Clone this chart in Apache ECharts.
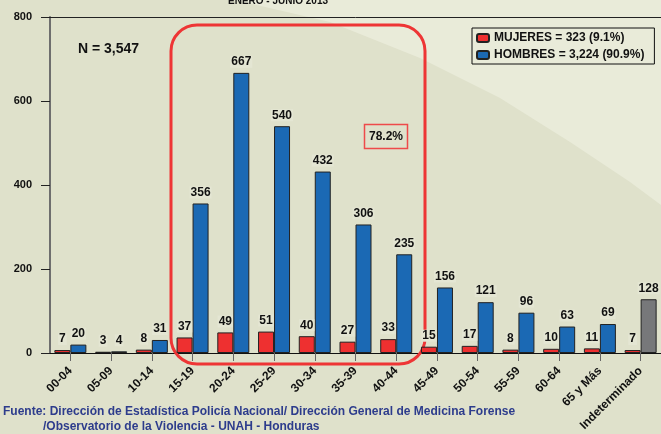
<!DOCTYPE html>
<html>
<head>
<meta charset="utf-8">
<script src="https://cdn.jsdelivr.net/npm/echarts@6/dist/echarts.min.js"></script>
<style>
html, body { margin: 0; padding: 0; }
#main { width: 661px; height: 434px; }
</style>
</head>
<body>
<div id="main"></div>
<script>
var ageGroups = ['00-04', '05-09', '10-14', '15-19', '20-24', '25-29', '30-34', '35-39', '40-44', '45-49', '50-54', '55-59', '60-64', '65 y Más', 'Indeterminado']
var mujeres = [7, 3, 8, 37, 49, 51, 40, 27, 33, 15, 17, 8, 10, 11, 7]
var hombres = [20, 4, 31, 356, 667, 540, 432, 306, 235, 156, 121, 96, 63, 69, 128]
var yTicks = [0, 200, 400, 600, 800]

var chartDom = document.getElementById('main')
var myChart = echarts.init(chartDom)
var option

// ultimo grupo (Indeterminado) va en gris
var hombresData = hombres.map(function (v, i) {
  if (ageGroups[i] === 'Indeterminado') {
    return { value: v, itemStyle: { color: '#77787a' } }
  }
  return v
})

var labelStyle = {
  show: true,
  position: 'top',
  distance: 5,
  color: '#111',
  fontFamily: 'Liberation Sans, Arial',
  fontWeight: 'bold',
  fontSize: 12,
  backgroundColor: '#e4e6d3',
  padding: [0, 1]
}

option = {
  backgroundColor: '#dfe1cb',
  animation: false,
  textStyle: { fontFamily: 'Liberation Sans, Arial' },
  grid: {
    left: 50,
    top: 17,
    width: 612,
    bottom: 81
  },
  legend: {
    orient: 'vertical',
    left: 472,
    top: 28,
    padding: [4, 10, 3, 4],
    itemGap: 5,
    itemWidth: 12,
    itemHeight: 8,
    borderColor: '#111',
    borderWidth: 1,
    textStyle: { fontWeight: 'bold', fontSize: 12, color: '#111' },
    data: ['MUJERES = 323 (9.1%)', 'HOMBRES = 3,224 (90.9%)']
  },
  xAxis: [{
    type: 'category',
    data: ageGroups,
    axisLine: { lineStyle: { color: '#111', width: 1 } },
    axisTick: { show: true, alignWithLabel: true, length: 8, lineStyle: { color: '#666' } },
    axisLabel: {
      interval: 0,
      rotate: 45,
      margin: 16,
      color: '#111',
      fontWeight: 'bold',
      fontSize: 12
    }
  }, {
    type: 'category',
    position: 'top',
    data: ageGroups,
    axisLine: { show: true, lineStyle: { color: '#222', width: 1 } },
    axisTick: { show: false },
    axisLabel: { show: false }
  }],
  yAxis: {
    type: 'value',
    min: yTicks[0],
    max: yTicks[yTicks.length - 1],
    interval: 200,
    axisLine: { show: true, lineStyle: { color: '#6e6e6e', width: 2 } },
    axisTick: { show: true, length: 9, lineStyle: { color: '#222' } },
    splitLine: { show: false },
    axisLabel: { margin: 18, color: '#111', fontWeight: 'bold', fontSize: 11 }
  },
  series: [{
    name: 'MUJERES = 323 (9.1%)',
    type: 'bar',
    z: 3,
    data: mujeres,
    barWidth: 16,
    barGap: '0%',
    itemStyle: { color: '#ee3030', borderColor: '#222', borderWidth: 1 },
    label: labelStyle
  }, {
    name: 'HOMBRES = 3,224 (90.9%)',
    type: 'bar',
    z: 3,
    data: hombresData,
    barWidth: 16,
    barGap: '0%',
    itemStyle: { color: '#1b69b4', borderColor: '#222', borderWidth: 1 },
    label: labelStyle
  }],
  graphic: [{
    type: 'polygon',
    z: -10,
    silent: true,
    shape: { points: [[235, 0], [330, 22], [420, 58], [500, 98], [570, 142], [630, 182], [661, 205], [661, 0]] },
    style: { fill: '#e9ebd9' }
  }, {
    type: 'text',
    left: 228,
    top: -4,
    style: { text: 'ENERO - JUNIO 2013', fontSize: 10, fontWeight: 'bold', fill: '#111', fontFamily: 'Liberation Sans, Arial' }
  }, {
    type: 'text',
    left: 78,
    top: 42,
    style: { text: 'N = 3,547', fontSize: 14, fontWeight: 'bold', fill: '#111', fontFamily: 'Liberation Sans, Arial' }
  }, {
    type: 'rect',
    z: 1,
    silent: true,
    shape: { x: 171, y: 25, width: 254, height: 339, r: 26 },
    style: { fill: 'none', stroke: '#ee3535', lineWidth: 3 }
  }, {
    type: 'group',
    left: 362,
    top: 122,
    z: 100,
    children: [{
      type: 'rect',
      shape: { x: 0, y: 0, width: 43, height: 24 },
      style: { fill: 'none', stroke: '#ee4a4a', lineWidth: 1.5 }
    }, {
      type: 'text',
      x: 21.5,
      y: 12,
      style: { text: '78.2%', align: 'center', verticalAlign: 'middle', fontSize: 12, fontWeight: 'bold', fill: '#111', fontFamily: 'Liberation Sans, Arial' }
    }]
  }, {
    type: 'text',
    left: 3,
    top: 406,
    style: { text: 'Fuente: Dirección de Estadística Policía Nacional/ Dirección General de Medicina Forense', fontSize: 12, fontWeight: 'bold', fill: '#2d3c8c', fontFamily: 'Liberation Sans, Arial' }
  }, {
    type: 'text',
    left: 43,
    top: 421,
    style: { text: '/Observatorio de la Violencia - UNAH - Honduras', fontSize: 12, fontWeight: 'bold', fill: '#2d3c8c', fontFamily: 'Liberation Sans, Arial' }
  }]
}

option && myChart.setOption(option)
</script>
</body>
</html>
